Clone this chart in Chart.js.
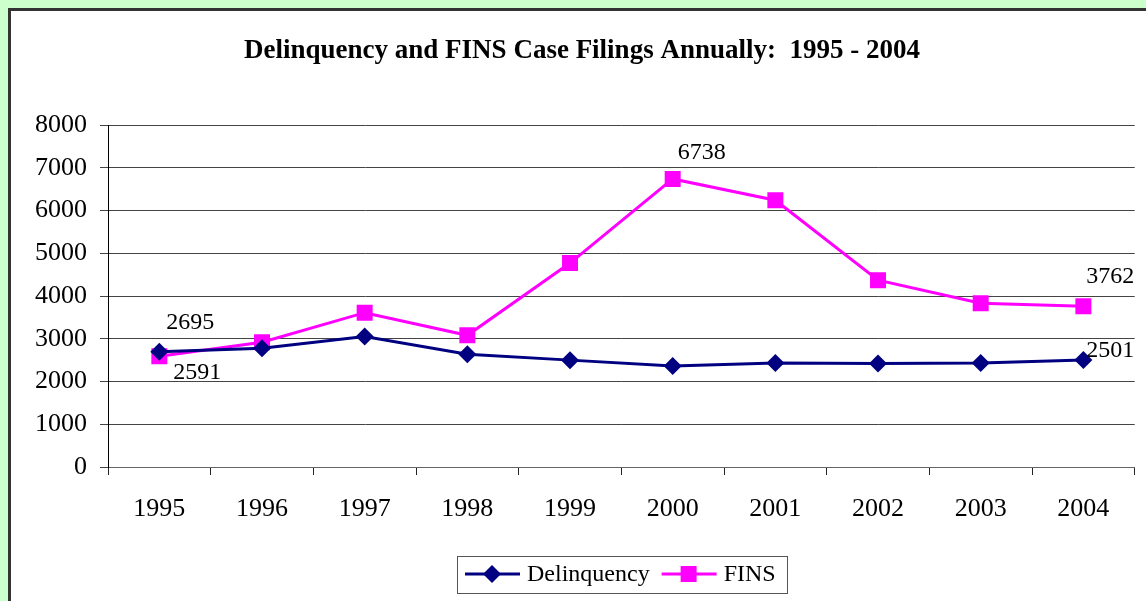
<!DOCTYPE html>
<html>
<head>
<meta charset="utf-8">
<script src="https://cdn.jsdelivr.net/npm/chart.js@4.4.0/dist/chart.umd.min.js"></script>
<style>
html, body { margin: 0; padding: 0; width: 1146px; height: 601px; overflow: hidden; background: #ccffcc; }
#frame { position: absolute; left: 8px; top: 8px; width: 1160px; height: 620px; border: 3px solid #333; background: #fff; }
#chart { position: absolute; left: 0; top: 0; }
</style>
</head>
<body>
<div id="frame"></div>
<canvas id="chart" width="1146" height="601"></canvas>
<script>
// data
const years = ['1995', '1996', '1997', '1998', '1999', '2000', '2001', '2002', '2003', '2004'];
const delinquency = [2695, 2780, 3050, 2640, 2500, 2360, 2430, 2420, 2430, 2501];
const fins = [2591, 2920, 3610, 3080, 4770, 6738, 6240, 4370, 3830, 3762];
const yTicks = [0, 1000, 2000, 3000, 4000, 5000, 6000, 7000, 8000];
const titleText = 'Delinquency and FINS Case Filings Annually:  1995 - 2004';

const SERIF = '"Liberation Serif", "Times New Roman", serif';
const NAVY = '#000080';
const MAGENTA = '#ff00ff';

// title, legend and value labels
const extras = {
    id: 'extras',
    afterDraw(chart) {
        const ctx = chart.ctx;
        ctx.save();

        // title
        ctx.fillStyle = '#000';
        ctx.font = 'bold 27px ' + SERIF;
        ctx.textAlign = 'center';
        ctx.textBaseline = 'middle';
        ctx.fillText(titleText, 582, 51);

        // value labels
        ctx.font = '24px ' + SERIF;
        const labels = [
            { ds: 0, i: 0, dx: 31, dy: -29 },
            { ds: 1, i: 0, dx: 38, dy: 16 },
            { ds: 1, i: 5, dx: 29, dy: -26 },
            { ds: 1, i: 9, dx: 27, dy: -29 },
            { ds: 0, i: 9, dx: 27, dy: -9 }
        ];
        labels.forEach(l => {
            const pt = chart.getDatasetMeta(l.ds).data[l.i];
            const v = chart.data.datasets[l.ds].data[l.i];
            ctx.fillText(String(v), pt.x + l.dx, pt.y + l.dy);
        });

        // legend box
        const bx = 457, by = 556, bw = 330, bh = 37;
        ctx.strokeStyle = '#555';
        ctx.lineWidth = 1;
        ctx.strokeRect(bx + 0.5, by + 0.5, bw, bh);
        const ly = by + 18;
        let x = bx + 8;
        ctx.textAlign = 'left';
        chart.data.datasets.forEach(ds => {
            ctx.strokeStyle = ds.borderColor;
            ctx.lineWidth = 3;
            ctx.beginPath();
            ctx.moveTo(x, ly);
            ctx.lineTo(x + 55, ly);
            ctx.stroke();
            ctx.fillStyle = ds.pointBackgroundColor;
            Chart.helpers.drawPoint(ctx, { pointStyle: ds.pointStyle, radius: ds.pointRadius, borderWidth: 0 }, x + 27, ly);
            ctx.fillStyle = '#000';
            ctx.fillText(ds.label, x + 62, ly + 1);
            x += 62 + ctx.measureText(ds.label).width + 12;
        });
        ctx.restore();
    }
};

new Chart(document.getElementById('chart'), {
    type: 'line',
    data: {
        labels: years,
        datasets: [{
            label: 'Delinquency',
            data: delinquency,
            borderColor: NAVY,
            backgroundColor: NAVY,
            pointBackgroundColor: NAVY,
            pointBorderColor: NAVY,
            pointBorderWidth: 0,
            pointStyle: 'rectRot',
            pointRadius: 9,
            borderWidth: 3,
            tension: 0
        }, {
            label: 'FINS',
            data: fins,
            borderColor: MAGENTA,
            backgroundColor: MAGENTA,
            pointBackgroundColor: MAGENTA,
            pointBorderColor: MAGENTA,
            pointBorderWidth: 0,
            pointStyle: 'rect',
            pointRadius: 11.3,
            borderWidth: 3,
            tension: 0
        }]
    },
    options: {
        responsive: false,
        animation: false,
        layout: { padding: { top: 125, right: 10, left: 0, bottom: 0 } },
        plugins: {
            legend: { display: false },
            title: { display: false },
            tooltip: { enabled: false }
        },
        scales: {
            x: {
                offset: true,
                grid: { drawOnChartArea: false, drawTicks: true, tickLength: 8, color: '#222', offset: true },
                border: { color: '#666' },
                ticks: { font: { family: SERIF, size: 26 }, color: '#000', padding: 19, maxRotation: 0 },
                afterFit: s => { s.height = 134; }
            },
            y: {
                min: 0,
                max: 8000,
                afterBuildTicks: s => { s.ticks = yTicks.map(v => ({ value: v })); },
                grid: { color: '#444', tickLength: 8 },
                border: { color: '#000' },
                ticks: { font: { family: SERIF, size: 26 }, color: '#000', padding: 13, callback: v => String(v) },
                afterFit: s => { s.width = 108; }
            }
        }
    },
    plugins: [extras]
});
</script>
</body>
</html>
